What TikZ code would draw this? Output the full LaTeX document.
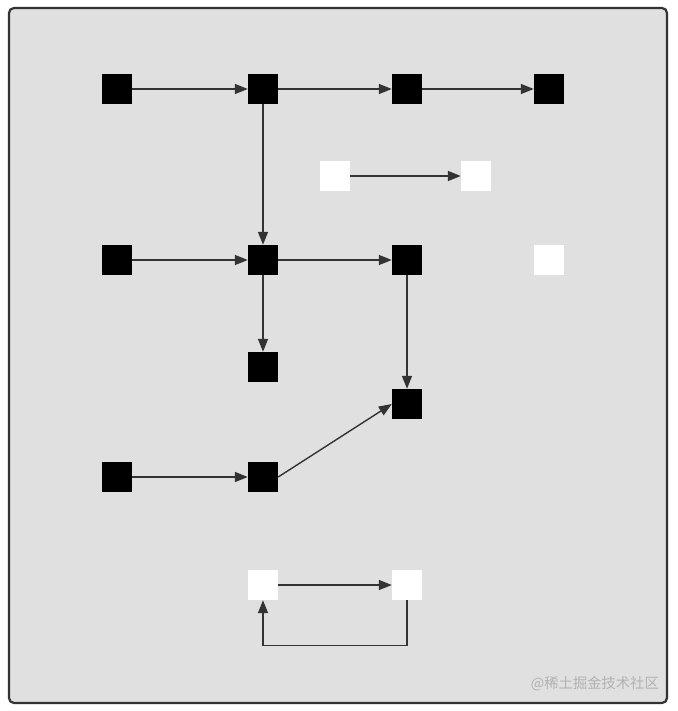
\documentclass[tikz,border=0pt]{standalone}
\usepackage{fontspec}
\newfontfamily\cjk{Noto Sans CJK SC}
\usetikzlibrary{arrows.meta}
\definecolor{bgframe}{HTML}{E0E0E0}
\definecolor{edgegray}{HTML}{333333}
\begin{document}
\begin{tikzpicture}[x=1pt,y=-1pt]
\tikzstyle{every node}+=[inner sep=0pt]
\tikzstyle{full}=[draw=none,fill=black,minimum size=30pt]
\tikzstyle{empty}=[draw=none,fill=white,minimum size=30pt]
\tikzstyle{link}=[draw=edgegray,line width=1.4pt,-{Triangle[length=13pt,width=10pt]}]
\useasboundingbox (0,0) rectangle (677,711);
\draw [edgegray,fill=bgframe,line width=2.2pt,rounded corners=5pt] (9,8) rectangle (667,703);
% top row
\node [full] (a1) at (117,89) {};
\node [full] (a2) at (263,89) {};
\node [full] (a3) at (407,89) {};
\node [full] (a4) at (549,89) {};
% white pair
\node [empty] (w1) at (335,176) {};
\node [empty] (w2) at (476,176) {};
% second row
\node [full] (b1) at (117,260) {};
\node [full] (b2) at (263,260) {};
\node [full] (b3) at (407,260) {};
\node [empty] (b4) at (549,260) {};
\node [full] (c2) at (263,367) {};
\node [full] (c3) at (407,404) {};
% third row
\node [full] (d1) at (117,477) {};
\node [full] (d2) at (263,477) {};
% loop pair
\node [empty] (e1) at (263,585) {};
\node [empty] (e2) at (407,585) {};
\draw [link] (a1) -- (a2);
\draw [link] (a2) -- (a3);
\draw [link] (a3) -- (a4);
\draw [link] (a2) -- (b2);
\draw [link] (w1) -- (w2);
\draw [link] (b1) -- (b2);
\draw [link] (b2) -- (b3);
\draw [link] (b2) -- (c2);
\draw [link] (b3) -- (c3);
\draw [link] (d1) -- (d2);
\draw [link] (d2.east) -- (c3.west);
\draw [link] (e1) -- (e2);
\draw [link] (e2.south) -- ++(0,45) -| (e1.south);
\node [text=black!30,font=\cjk\fontsize{14.3pt}{16pt}\selectfont,anchor=east] (mark) at (659,684) {@稀土掘金技术社区};
\end{tikzpicture}
\end{document}
